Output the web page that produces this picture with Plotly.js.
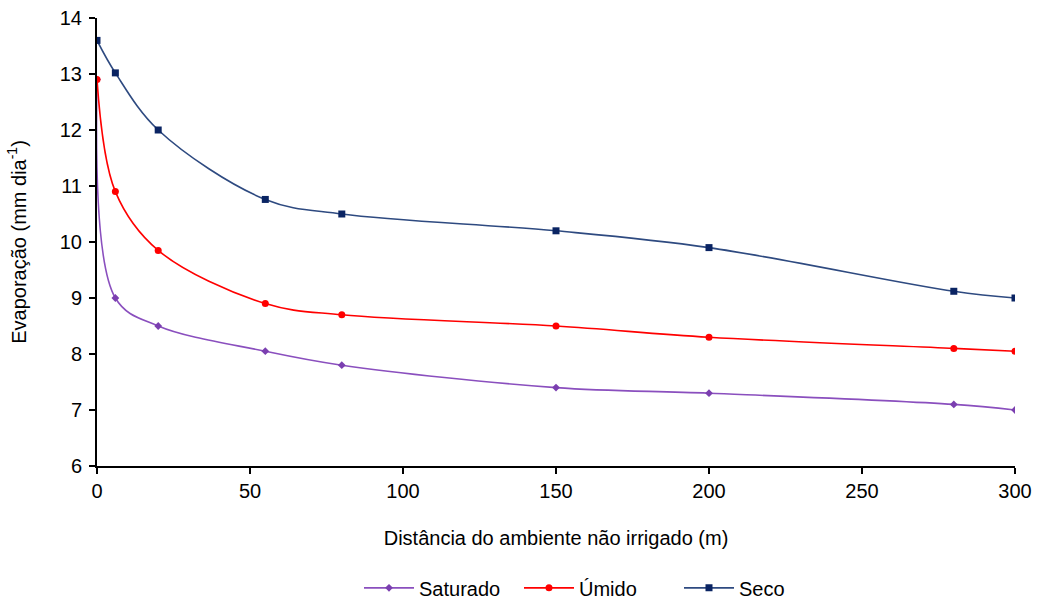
<!DOCTYPE html>
<html>
<head>
<meta charset="utf-8">
<script src="https://cdn.plot.ly/plotly-3.0.1.min.js"></script>
<style>html,body{margin:0;padding:0;background:#fff;}#chart{width:1041px;height:602px;}</style>
</head>
<body>
<div id="chart"></div>
<script>
const distancias = [0, 6, 20, 55, 80, 150, 200, 280, 300];
const saturado = [12.9, 9.0, 8.5, 8.05, 7.8, 7.4, 7.3, 7.1, 7.0];
const umido = [12.9, 10.9, 9.85, 8.9, 8.7, 8.5, 8.3, 8.1, 8.05];
const seco = [13.6, 13.02, 12.0, 10.76, 10.5, 10.2, 9.9, 9.12, 9.0];
const xTicks = [0, 50, 100, 150, 200, 250, 300];
const yTicks = [6, 7, 8, 9, 10, 11, 12, 13, 14];

const font = {family: 'Liberation Sans, Arial, sans-serif', color: '#000'};

const traces = [
  {x: distancias, y: saturado, name: 'Saturado', mode: 'lines+markers',
   line: {color: '#8A4FBE', width: 1.6, shape: 'spline', smoothing: 1},
   marker: {symbol: 'diamond', size: 6, color: '#7B3FB0'}},
  {x: distancias, y: umido, name: 'Úmido', mode: 'lines+markers',
   line: {color: '#FF0000', width: 1.6, shape: 'spline', smoothing: 1},
   marker: {symbol: 'circle', size: 7, color: '#FF0000'}},
  {x: distancias, y: seco, name: 'Seco', mode: 'lines+markers',
   line: {color: '#2E4A80', width: 1.6, shape: 'spline', smoothing: 1},
   marker: {symbol: 'square', size: 7, color: '#0A2463'}}
];

const layout = {
  width: 1041, height: 602,
  margin: {l: 97, r: 26, t: 18, b: 136, autoexpand: false},
  paper_bgcolor: '#fff', plot_bgcolor: '#fff',
  showlegend: true,
  legend: {orientation: 'h', x: 0.2854, xanchor: 'left', y: -0.272, yanchor: 'middle',
           itemwidth: 50, entrywidth: 95, font: Object.assign({size: 20}, font), traceorder: 'normal'},
  xaxis: {range: [0, 300], tickvals: xTicks, ticktext: xTicks.map(String), automargin: false,
          showgrid: false, zeroline: false, showline: true, linecolor: '#000', linewidth: 2,
          ticks: 'outside', ticklen: 6, tickwidth: 2, tickcolor: '#000',
          tickfont: Object.assign({size: 20}, font),
          title: {text: 'Distância do ambiente não irrigado (m)', font: Object.assign({size: 20}, font), standoff: 30}},
  yaxis: {range: [6, 14], tickvals: yTicks, ticktext: yTicks.map(String), automargin: false,
          showgrid: false, zeroline: false, showline: true, linecolor: '#000', linewidth: 2,
          ticks: 'outside', ticklen: 6, tickwidth: 2, tickcolor: '#000', ticklabelstandoff: 3,
          tickfont: Object.assign({size: 20}, font),
          title: {text: 'Evaporação (mm dia<sup>-1</sup>)', font: Object.assign({size: 20}, font), standoff: 28}}
};

Plotly.newPlot('chart', traces, layout, {displayModeBar: false, staticPlot: true});
</script>
</body>
</html>
